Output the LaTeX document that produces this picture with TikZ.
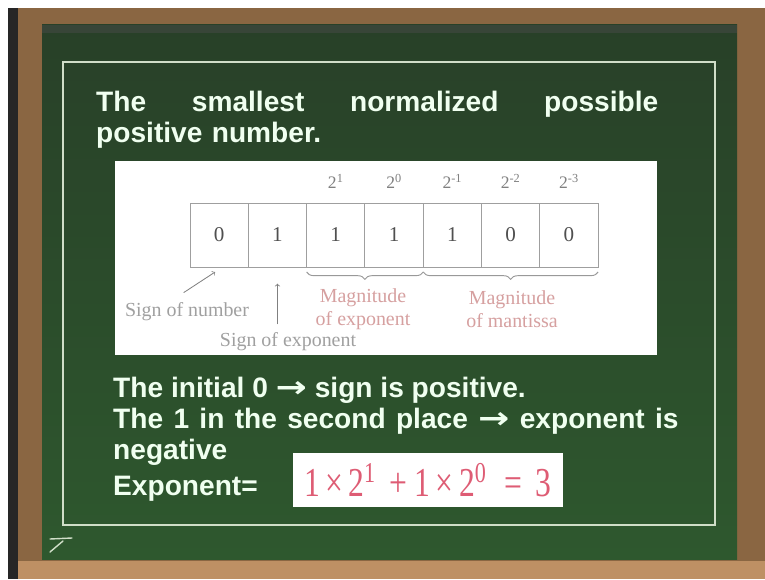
\documentclass[tikz,border=0pt]{standalone}
\usepackage{fontspec}
\setmainfont{Liberation Serif}
\setsansfont{Liberation Sans}
\newfontfamily\arrowfont{DejaVu Sans}
\usetikzlibrary{positioning,decorations.pathreplacing}

\definecolor{board}{RGB}{46,88,46}
\definecolor{boarddark}{RGB}{40,64,40}
\definecolor{wood}{RGB}{138,102,66}
\definecolor{woodlight}{RGB}{190,144,100}
\definecolor{chalk}{RGB}{208,222,200}
\definecolor{penred}{RGB}{222,92,116}
\definecolor{inkgray}{RGB}{80,80,80}
\definecolor{lblgray}{RGB}{160,160,160}
\definecolor{lblred}{RGB}{214,160,160}

\newcommand{\chalkarrow}{\scalebox{1.45}[1.15]{\arrowfont\bfseries\fontsize{22}{24}\selectfont →}}

\tikzset{
	cell/.style={draw=gray!75,line width=0.8pt,outer sep=0pt,minimum width=1.749cm,minimum height=1.92cm,
		text=inkgray,font=\fontsize{18}{20}\selectfont},
	power/.style={text=gray,inner sep=0pt,font=\fontsize{15}{17}\selectfont},
	lbl/.style={text=lblgray,inner sep=0pt,align=center,font=\fontsize{17}{20}\selectfont},
	chalktext/.style={text=white!94!green,inner sep=0pt,font=\sffamily\bfseries\fontsize{24}{26.6}\selectfont},
	arr/.style={->,gray,line width=0.7pt},
	curly/.style={decorate,decoration={brace,mirror,amplitude=0.22cm},gray!80,line width=0.8pt}
}

\begin{document}
\begin{tikzpicture}[x=0.03cm,y=0.03cm]
	\useasboundingbox (0,0) rectangle (765,579);
	% board and frame
	\fill[white] (0,0) rectangle (765,579);
	\fill[black!85] (8,0) rectangle (18,571);
	\fill[wood] (18,0) rectangle (765,571);
	\fill[woodlight] (18,0) rectangle (765,18);
	\shade[top color=boarddark,bottom color=board] (42,20) rectangle (737,554);
	\fill[black!70,opacity=0.45] (42,546) rectangle (737,554);
	\draw[chalk,line width=1.6pt] (63,54) rectangle (715,517);
	\draw[chalk,line width=1.2pt,line cap=round] (50,40) -- (72,41) (63,38) -- (50,27);

	% white panel with the bit pattern
	\fill[white] (115,224) rectangle (657,418);
	\node[cell] (c1) at (219.15,344) {0};
	\node[cell,right=0pt of c1] (c2) {1};
	\node[cell,right=0pt of c2] (c3) {1};
	\node[cell,right=0pt of c3] (c4) {1};
	\node[cell,right=0pt of c4] (c5) {1};
	\node[cell,right=0pt of c5] (c6) {0};
	\node[cell,right=0pt of c6] (c7) {0};
	\node[power,above=0.42cm of c3] (p1) {2\textsuperscript{1}};
	\node[power,above=0.42cm of c4] (p2) {2\textsuperscript{0}};
	\node[power,above=0.42cm of c5] (p3) {2\textsuperscript{-1}};
	\node[power,above=0.42cm of c6] (p4) {2\textsuperscript{-2}};
	\node[power,above=0.42cm of c7] (p5) {2\textsuperscript{-3}};
	\draw[curly] ([yshift=-0.15cm]c3.south west) -- ([yshift=-0.15cm]c4.south east);
	\draw[curly] ([yshift=-0.15cm]c5.south west) -- ([yshift=-0.15cm]c7.south east);
	\node[lbl,text=lblred] (magexp) at (363,270) {Magnitude\\of exponent};
	\node[lbl,text=lblred] (magman) at (512,270) {Magnitude\\of mantissa};
	\node[lbl] (signnum) at (187,267) {Sign of number};
	\node[lbl] (signexp) at (288,237) {Sign of exponent};
	\draw[arr] ([shift={(-0.1cm,0.3cm)}]signnum.north) -- ([shift={(-0.12cm,-0.15cm)}]c1.south);
	\draw[arr] ([yshift=0.25cm]signexp.north -| c2.south) -- ([yshift=-0.5cm]c2.south);

	% chalk text
	\node[chalktext,anchor=north west,text width=16.86cm,align=left] (title) at (96,488)
		{The\hfill smallest\hfill normalized\hfill possible\\positive number.};
	\node[chalktext,anchor=north west,text width=16.96cm,align=justify] (facts) at (113,202)
		{The initial 0 \chalkarrow{} sign is positive.\\The 1 in the second place \chalkarrow{} exponent is negative};
	\node[chalktext,anchor=base west] (expo) at (113,84) {Exponent=};
	\node[fill=white,minimum width=8.1cm,minimum height=1.62cm,inner sep=0pt,text=penred,
		font=\fontsize{27}{30}\selectfont] (eq) at (428,99)
		{\scalebox{1}[1.3]{1\,×\,2\textsuperscript{1}\, + 1\,×\,2\textsuperscript{0}\,\, = \,3}};
\end{tikzpicture}
\end{document}
